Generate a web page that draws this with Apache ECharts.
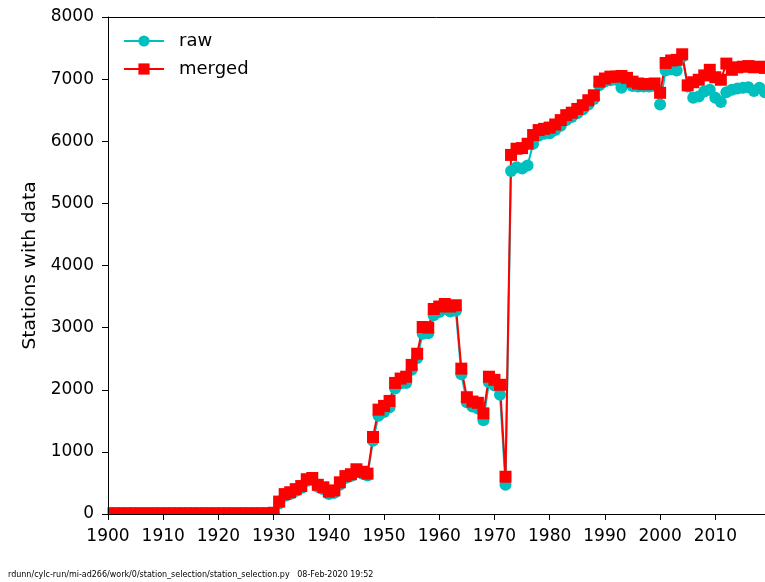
<!DOCTYPE html>
<html>
<head>
<meta charset="utf-8">
<script src="https://cdn.jsdelivr.net/npm/echarts@6/dist/echarts.min.js"></script>
<style>
html,body{margin:0;padding:0;background:#fff;}
#chart{width:765px;height:582px;}
</style>
</head>
<body>
<div id="chart"></div>
<script>
const years = [
1900,1901,1902,1903,1904,1905,1906,1907,1908,1909,
1910,1911,1912,1913,1914,1915,1916,1917,1918,1919,
1920,1921,1922,1923,1924,1925,1926,1927,1928,1929,
1930,1931,1932,1933,1934,1935,1936,1937,1938,1939,
1940,1941,1942,1943,1944,1945,1946,1947,1948,1949,
1950,1951,1952,1953,1954,1955,1956,1957,1958,1959,
1960,1961,1962,1963,1964,1965,1966,1967,1968,1969,
1970,1971,1972,1973,1974,1975,1976,1977,1978,1979,
1980,1981,1982,1983,1984,1985,1986,1987,1988,1989,
1990,1991,1992,1993,1994,1995,1996,1997,1998,1999,
2000,2001,2002,2003,2004,2005,2006,2007,2008,2009,
2010,2011,2012,2013,2014,2015,2016,2017,2018,2019];

const rawValues = [
5,5,5,5,5,5,5,5,5,5,
5,5,5,5,5,5,5,5,5,5,
5,5,5,5,5,5,5,5,5,5,
10,170,290,320,370,420,530,550,440,400,
320,340,470,580,610,690,650,620,1180,1580,
1640,1720,2020,2100,2110,2320,2510,2900,2910,3200,
3250,3300,3260,3270,2250,1800,1730,1700,1510,2120,
2070,1920,470,5520,5580,5560,5610,5960,6090,6120,
6130,6180,6250,6340,6390,6450,6510,6590,6680,6900,
6960,6980,6990,6860,6950,6890,6880,6880,6880,6890,
6590,7140,7160,7140,7360,6880,6700,6720,6800,6830,
6700,6630,6790,6830,6850,6860,6870,6810,6860,6790];

const mergedValues = [
10,10,10,10,10,10,10,10,10,10,
10,10,10,10,10,10,10,10,10,10,
10,10,10,10,10,10,10,10,10,10,
20,200,320,350,400,450,560,580,470,430,
360,380,510,610,640,720,680,650,1240,1680,
1740,1820,2110,2180,2210,2400,2580,3010,3000,3300,
3340,3380,3340,3360,2340,1880,1810,1790,1620,2210,
2160,2080,600,5780,5880,5890,5960,6100,6180,6200,
6220,6270,6340,6420,6460,6520,6580,6660,6740,6960,
7010,7040,7040,7050,7020,6960,6930,6920,6920,6930,
6780,7260,7300,7310,7400,6900,6950,6990,7060,7150,
7030,6990,7250,7150,7190,7200,7210,7190,7200,7180];

const yTicks = [0,1000,2000,3000,4000,5000,6000,7000,8000];
const xTicks = [1900,1910,1920,1930,1940,1950,1960,1970,1980,1990,2000,2010];

const FONT = 'DejaVu Sans';
const chart = echarts.init(document.getElementById('chart'), null, {renderer:'canvas'});
const pair = (arr) => years.map((y,i) => [y, arr[i]]);

chart.setOption({
  animation: false,
  backgroundColor: '#ffffff',
  textStyle: {fontFamily: FONT},
  grid: {left: 108, top: 17, right: 0, bottom: 68, containLabel: false},
  legend: {
    orient: 'vertical', left: 118, top: 27,
    itemWidth: 40, itemHeight: 14, itemGap: 10,
    textStyle: {fontFamily: FONT, fontSize: 18, color: '#000', lineHeight: 14, padding: [0,0,0,10]},
    data: ['raw','merged']
  },
  xAxis: [{
    type: 'value', min: 1900, max: 2019, interval: 10, z: 10,
    axisLine: {show: true, lineStyle: {color: '#000', width: 1}},
    axisTick: {show: true, length: 6, lineStyle: {color: '#000'}},
    axisLabel: {fontFamily: FONT, fontSize: 17, color: '#000', margin: 14,
      formatter: v => xTicks.includes(v) ? String(v) : '', showMaxLabel: false},
    splitLine: {show: false}
  },{
    type: 'value', position: 'top', min: 1900, max: 2019, z: 10,
    axisLine: {show: true, lineStyle: {color: '#000', width: 1}},
    axisTick: {show: false}, axisLabel: {show: false}, splitLine: {show: false}
  }],
  yAxis: {
    type: 'value', min: 0, max: 8000, interval: 1000, z: 10,
    name: 'Stations with data', nameLocation: 'middle', nameGap: 68, nameRotate: 90,
    nameTextStyle: {fontFamily: FONT, fontSize: 18.5, color: '#000'},
    axisLine: {show: true, lineStyle: {color: '#000', width: 1}},
    axisTick: {show: true, length: 6, lineStyle: {color: '#000'}},
    axisLabel: {fontFamily: FONT, fontSize: 17, color: '#000', margin: 14,
      formatter: v => yTicks.includes(v) ? String(v) : ''},
    splitLine: {show: false}
  },
  series: [{
    name: 'raw', type: 'line', data: pair(rawValues),
    symbol: 'circle', symbolSize: 12, clip: false,
    itemStyle: {color: '#00bfbf'},
    lineStyle: {color: '#00bfbf', width: 2}
  },{
    name: 'merged', type: 'line', data: pair(mergedValues),
    symbol: 'rect', symbolSize: 12, clip: false,
    itemStyle: {color: '#ff0000'},
    lineStyle: {color: '#ff0000', width: 2}
  }],
  graphic: [
    {type: 'rect', z: 5, silent: true, shape: {x: 90, y: 514.5, width: 675, height: 8}, style: {fill: '#ffffff'}},
    {type: 'rect', z: 5, silent: true, shape: {x: 95, y: 500, width: 12.5, height: 15}, style: {fill: '#ffffff'}},
    {type: 'text', z: 5, left: 8, top: 571,
     style: {text: 'rdunn/cylc-run/mi-ad266/work/0/station_selection/station_selection.py   08-Feb-2020 19:52',
      font: '8px "DejaVu Sans"', fill: '#000'}}
  ]
});
</script>
</body>
</html>
